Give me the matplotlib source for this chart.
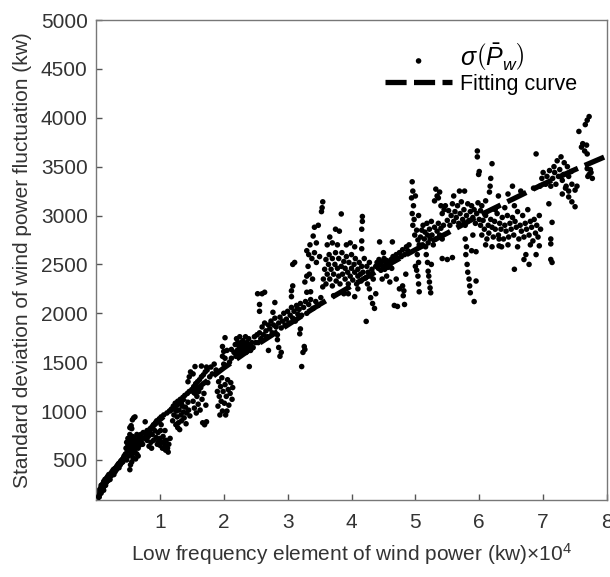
import numpy as np
import matplotlib
matplotlib.use("Agg")
import matplotlib.pyplot as plt

plt.rcParams['font.family'] = ['Liberation Sans', 'DejaVu Sans']
plt.rcParams['mathtext.fontset'] = 'custom'
plt.rcParams['mathtext.rm'] = 'Liberation Sans'
plt.rcParams['mathtext.it'] = 'Liberation Sans:italic'

# scatter points, x in units of 1e4 kw, y in kw
pts_a = [(0.01, 100), (0.02, 110), (0.03, 130), (0.03, 160), (0.04, 140), (0.05, 190), (0.05, 120),
         (0.06, 170), (0.07, 210), (0.08, 160), (0.08, 240), (0.09, 200), (0.10, 250), (0.11, 220),
         (0.12, 280), (0.12, 190), (0.13, 260), (0.14, 300), (0.15, 240), (0.16, 310), (0.17, 280),
         (0.18, 330), (0.19, 290), (0.20, 350), (0.21, 320), (0.22, 300), (0.23, 360), (0.24, 340),
         (0.25, 380), (0.26, 360), (0.27, 400), (0.28, 350), (0.29, 410), (0.30, 380), (0.31, 420),
         (0.32, 400), (0.33, 440), (0.34, 430), (0.35, 460), (0.36, 420), (0.37, 470), (0.38, 450),
         (0.39, 490), (0.40, 470), (0.41, 500), (0.42, 480), (0.43, 520), (0.44, 540)]
pts_b = [(0.46, 560), (0.47, 620), (0.48, 680), (0.49, 590), (0.50, 650), (0.50, 720), (0.51, 540),
         (0.52, 610), (0.52, 690), (0.53, 760), (0.54, 580), (0.54, 660), (0.55, 700), (0.56, 630),
         (0.57, 560), (0.57, 740), (0.58, 680), (0.59, 610), (0.60, 720), (0.60, 650), (0.61, 580),
         (0.62, 700), (0.63, 640), (0.64, 560), (0.64, 760), (0.65, 690), (0.66, 620), (0.67, 720),
         (0.68, 650), (0.69, 700), (0.70, 760), (0.71, 680), (0.72, 730), (0.73, 660), (0.74, 780),
         (0.53, 830), (0.55, 850), (0.57, 910), (0.59, 930), (0.61, 940), (0.56, 820), (0.77, 890),
         (0.53, 400), (0.54, 450), (0.56, 480), (0.58, 520), (0.62, 510), (0.66, 540), (0.48, 500)]
pts_c = [(0.76, 720), (0.78, 760), (0.80, 700), (0.80, 800), (0.82, 740), (0.84, 780), (0.85, 820),
         (0.86, 680), (0.88, 840), (0.88, 760), (0.90, 860), (0.90, 700), (0.92, 800), (0.93, 880),
         (0.94, 730), (0.95, 900), (0.96, 660), (0.97, 780), (0.98, 690), (0.99, 920), (1.00, 650),
         (1.00, 720), (1.01, 800), (1.02, 940), (1.03, 680), (1.04, 620), (1.05, 740), (1.06, 960),
         (1.07, 690), (1.08, 650), (1.09, 600), (1.10, 700), (1.11, 980), (1.12, 620), (1.13, 580),
         (1.14, 660), (1.15, 1000), (1.16, 720), (0.83, 640), (0.87, 620), (1.02, 860), (1.08, 800)]
pts_d = [(1.18, 1020), (1.20, 900), (1.21, 1050), (1.22, 960), (1.24, 1080), (1.25, 860), (1.26, 1000),
         (1.27, 940), (1.28, 1100), (1.29, 880), (1.30, 1010), (1.31, 810), (1.32, 1120), (1.33, 960),
         (1.34, 900), (1.35, 1050), (1.36, 1140), (1.37, 990), (1.38, 930), (1.39, 1160), (1.40, 1040),
         (1.41, 870), (1.42, 980), (1.43, 1180), (1.44, 1090), (1.45, 1010), (1.46, 1200), (1.47, 950),
         (1.44, 1300), (1.48, 1400), (1.46, 1350), (1.23, 1020), (1.28, 830), (1.34, 1070)]
pts_e = [(1.50, 1220), (1.52, 1100), (1.53, 1250), (1.54, 1030), (1.55, 1180), (1.56, 1280), (1.57, 980),
         (1.58, 1150), (1.59, 1300), (1.60, 1070), (1.61, 1200), (1.62, 1320), (1.63, 1010), (1.64, 1240),
         (1.65, 1350), (1.66, 1120), (1.67, 880), (1.68, 1370), (1.69, 1180), (1.70, 860), (1.71, 1400),
         (1.72, 1060), (1.73, 890), (1.74, 1420), (1.75, 1290), (1.55, 1455), (1.65, 1460), (1.73, 1450),
         (1.52, 1380), (1.78, 1350), (1.80, 1450), (1.82, 1380), (1.85, 1480), (1.88, 1420), (1.90, 1200),
         (1.91, 1050), (1.92, 1300), (1.93, 1150), (1.94, 960), (1.95, 1250), (1.96, 1100), (1.97, 1340),
         (1.98, 1000), (1.99, 1200), (2.00, 1480), (2.01, 1080), (2.02, 1270), (2.03, 960), (2.04, 1150),
         (2.05, 1000), (2.06, 1320), (2.07, 1220), (2.08, 1060), (2.09, 1500), (2.10, 1180), (2.11, 1290),
         (2.12, 1540), (2.13, 1120), (2.14, 1240), (1.98, 1560), (2.00, 1610), (2.02, 1540), (2.05, 1620),
         (2.12, 1630), (1.98, 1660), (2.02, 1750)]
pts_f = [(2.16, 1600), (2.18, 1680), (2.19, 1560), (2.20, 1740), (2.21, 1620), (2.22, 1700), (2.23, 1580),
         (2.24, 1660), (2.25, 1760), (2.26, 1620), (2.27, 1700), (2.28, 1580), (2.29, 1650), (2.30, 1720),
         (2.31, 1600), (2.32, 1680), (2.33, 1640), (2.34, 1760), (2.35, 1600), (2.36, 1700), (2.37, 1660),
         (2.38, 1620), (2.39, 1740), (2.40, 1455), (2.41, 1680), (2.42, 1620), (2.44, 1700), (2.46, 1650),
         (2.48, 1760), (2.50, 1700), (2.52, 1780)]
pts_g = [(2.54, 1700), (2.56, 1800), (2.58, 1740), (2.60, 1860), (2.62, 1780), (2.64, 1900), (2.66, 1820),
         (2.68, 1760), (2.70, 1880), (2.72, 1840), (2.74, 1920), (2.76, 1800), (2.78, 1880), (2.80, 1950),
         (2.82, 1860), (2.84, 1780), (2.86, 1900), (2.88, 1960), (2.90, 1850), (2.92, 1920), (2.94, 2000),
         (2.96, 1880), (2.98, 1940), (3.00, 2020), (3.02, 1900), (3.04, 1980), (3.06, 2060), (3.08, 1950),
         (3.10, 2020), (3.12, 1920), (3.14, 2080), (3.16, 1990), (3.18, 2040), (3.20, 2100), (3.22, 1980),
         (3.25, 2060), (3.28, 2120), (3.30, 2000), (3.33, 2090), (3.36, 2140), (3.40, 2050), (3.44, 2120),
         (3.48, 2080), (3.52, 2160), (2.53, 2200), (2.64, 2215), (2.56, 2020), (2.56, 2090), (2.80, 2110),
         (2.77, 2010), (2.60, 2200), (2.84, 1730), (2.86, 1650), (2.88, 1560), (2.90, 1600), (3.22, 1455),
         (3.24, 1600), (3.26, 1660), (3.27, 1630), (3.19, 1790), (3.20, 1840), (2.70, 1620),
         (3.06, 2170), (3.06, 2230), (3.08, 2280), (3.11, 2520), (3.08, 2500), (3.27, 2320), (3.30, 2380),
         (3.34, 2400), (3.39, 2350), (3.30, 2215), (3.36, 2220), (3.32, 2480), (3.38, 2560), (3.42, 2620),
         (3.45, 2520), (3.30, 2640), (3.35, 2700), (3.40, 2790), (3.42, 2880), (3.48, 2900), (3.33, 2600),
         (3.45, 2720), (3.50, 2580), (3.53, 3040), (3.54, 3080), (3.55, 3140), (3.55, 2270), (3.15, 2050)]
pts_h = [(3.56, 2350), (3.58, 2450), (3.60, 2300), (3.60, 2550), (3.62, 2400), (3.64, 2500), (3.65, 2600),
         (3.66, 2350), (3.68, 2450), (3.70, 2280), (3.70, 2560), (3.72, 2400), (3.74, 2500), (3.75, 2620),
         (3.76, 2330), (3.78, 2460), (3.80, 2380), (3.80, 2560), (3.82, 2300), (3.84, 2480), (3.85, 2620),
         (3.86, 2400), (3.88, 2530), (3.90, 2350), (3.90, 2460), (3.92, 2580), (3.94, 2420), (3.95, 2300),
         (3.96, 2520), (3.98, 2380), (4.00, 2460), (4.00, 2600), (4.02, 2340), (4.04, 2500), (4.05, 2420),
         (4.06, 2560), (4.08, 2300), (4.10, 2450), (4.10, 2380), (4.12, 2520), (4.14, 2400), (4.15, 2330),
         (4.16, 2480), (4.18, 2420), (4.20, 2560), (4.22, 2360), (4.24, 2480), (4.25, 2300), (4.26, 2420),
         (4.28, 2520), (4.30, 2380), (4.32, 2450), (4.34, 2350),
         (3.62, 2700), (3.66, 2780), (3.70, 2720), (3.75, 2860), (3.81, 2840), (3.84, 3016), (3.78, 2700),
         (3.92, 2700), (4.16, 2660), (4.16, 2740), (4.16, 2860), (4.17, 2940), (4.17, 2990), (4.05, 2680),
         (3.98, 2720), (4.28, 2250), (4.30, 2160), (4.33, 2100), (4.36, 2050), (4.38, 2200), (4.23, 1917),
         (3.95, 2200), (4.10, 2250), (3.72, 2180), (3.88, 2200), (4.05, 2170)]
pts_i = [(4.38, 2480), (4.40, 2520), (4.42, 2460), (4.43, 2550), (4.45, 2500), (4.46, 2440), (4.48, 2530),
         (4.50, 2480), (4.51, 2560), (4.52, 2450), (4.54, 2510), (4.55, 2540), (4.57, 2470), (4.58, 2520),
         (4.60, 2490), (4.62, 2550), (4.63, 2460), (4.65, 2580), (4.68, 2540), (4.70, 2600), (4.72, 2560),
         (4.75, 2620), (4.78, 2580), (4.80, 2650), (4.83, 2600), (4.86, 2680), (4.88, 2640), (4.90, 2700),
         (4.44, 2730), (4.64, 2730), (4.67, 2080), (4.72, 2070), (4.83, 2090), (4.75, 2250), (4.80, 2280),
         (4.60, 2320), (4.70, 2350), (4.81, 2180), (4.82, 2230), (4.55, 2380), (4.48, 2350), (4.85, 2400),
         (4.50, 2620)]
pts_j = [(4.95, 3345), (4.96, 3250), (4.94, 3180), (4.97, 3100), (4.95, 3020), (4.98, 2960), (4.96, 2900),
         (5.00, 3200), (5.02, 2850), (4.99, 2800), (5.04, 2750), (5.05, 3000), (5.06, 2700), (5.03, 2600),
         (5.05, 2520), (5.02, 2440), (5.04, 2380), (5.05, 2300), (5.06, 2220), (5.00, 2480),
         (5.08, 2780), (5.10, 2850), (5.11, 2700), (5.12, 2900), (5.14, 2760), (5.15, 2830), (5.16, 2680),
         (5.18, 2920), (5.19, 2800), (5.20, 2720), (5.22, 2860), (5.23, 2760), (5.25, 2940), (5.26, 2800),
         (5.28, 2700), (5.30, 2880), (5.32, 2760), (5.34, 2840), (5.36, 2920), (5.38, 2800), (5.40, 2870),
         (5.42, 2760), (5.44, 2900), (5.17, 2600), (5.19, 2520), (5.20, 2430), (5.21, 2380), (5.22, 2320),
         (5.23, 2260), (5.24, 2210), (5.25, 2500), (5.30, 3150), (5.32, 3270), (5.34, 3200), (5.36, 3180),
         (5.38, 3240), (5.40, 3100), (5.42, 3020), (5.45, 3060), (5.47, 3100), (5.42, 2560), (5.50, 2550),
         (5.58, 2570)]
pts_k = [(5.50, 2950), (5.52, 3050), (5.54, 2900), (5.56, 3000), (5.58, 3120), (5.60, 2940), (5.62, 3040),
         (5.64, 2980), (5.66, 3100), (5.68, 2920), (5.70, 3020), (5.72, 3140), (5.74, 2960), (5.76, 3060),
         (5.78, 2900), (5.80, 3000), (5.82, 3120), (5.84, 2950), (5.86, 3040), (5.88, 3100), (5.90, 2980),
         (5.92, 3060), (5.94, 2920), (5.96, 3020), (5.98, 3130), (6.00, 2960), (6.02, 3050), (6.04, 3100),
         (5.69, 3250), (5.77, 3250), (5.60, 3200), (5.78, 2760), (5.80, 2680), (5.79, 2600), (5.81, 2500),
         (5.82, 2420), (5.84, 2350), (5.85, 2280), (5.86, 2210), (5.88, 2640), (5.92, 2120), (5.95, 2630),
         (5.95, 2330), (5.90, 2800), (5.97, 3600), (5.97, 3660), (6.00, 3450), (5.99, 3420)]
pts_l = [(6.02, 2900), (6.04, 2800), (6.06, 2950), (6.08, 2860), (6.10, 3000), (6.12, 2760), (6.14, 2900),
         (6.15, 2820), (6.18, 2960), (6.20, 2880), (6.22, 2780), (6.24, 2940), (6.25, 2860), (6.28, 3020),
         (6.30, 2800), (6.32, 2920), (6.34, 2860), (6.36, 2980), (6.38, 2760), (6.40, 2900), (6.42, 2840),
         (6.44, 3000), (6.46, 2780), (6.48, 2920), (6.50, 2860), (6.52, 2980), (6.54, 2800), (6.56, 2940),
         (6.58, 2880), (6.60, 3040), (6.62, 2760), (6.64, 2900), (6.66, 2840), (6.68, 3000), (6.70, 2780),
         (6.72, 2920), (6.74, 2860), (6.76, 3060), (6.78, 2800), (6.80, 2940), (6.82, 2880), (6.84, 2740),
         (6.86, 2960), (6.88, 2820), (6.90, 2900), (6.92, 2780), (6.94, 3000), (6.96, 2860),
         (6.10, 2700), (6.20, 2680), (6.35, 2680), (6.45, 2700), (6.60, 2680), (6.80, 2700), (6.25, 3060),
         (6.40, 3080), (6.55, 3100), (6.16, 3240), (6.17, 3300), (6.18, 3380), (6.20, 3530), (6.31, 2690),
         (6.31, 2760), (6.55, 2450), (6.52, 3300), (6.78, 2500), (6.70, 2550), (6.73, 2600), (6.89, 2600),
         (6.94, 2690), (6.10, 3150), (6.30, 3200), (6.45, 3220), (6.65, 3250), (6.85, 3280)]
pts_m = [(6.89, 3630), (7.17, 3500), (7.22, 3560), (7.28, 3600), (7.33, 3540), (7.38, 3500),
         (6.95, 3300), (6.98, 3380), (7.00, 3440), (7.04, 3320), (7.06, 3400), (7.10, 3460), (7.12, 3300),
         (7.15, 3380), (7.18, 3440), (7.20, 3320), (7.24, 3400), (7.26, 3470), (7.30, 3360), (7.32, 3420),
         (7.36, 3300), (7.40, 3400), (7.44, 3450), (7.30, 3220), (7.35, 3280), (7.40, 3250), (7.45, 3320),
         (7.50, 3260), (7.53, 3300), (7.40, 3190), (7.45, 3140), (7.50, 3090), (7.09, 3120), (7.14, 2930),
         (7.12, 2760), (7.12, 2710), (7.12, 2550), (7.14, 2520), (7.72, 4012), (7.69, 3975), (7.66, 3930),
         (7.56, 3860), (7.60, 3700), (7.62, 3735), (7.65, 3660), (7.68, 3720), (7.69, 3630), (7.69, 3480),
         (7.72, 3420), (7.75, 3440), (7.77, 3380), (7.70, 3400), (7.74, 3470)]

# fitting curve, read at a set of x positions (x in 1e4 kw)
curve_x = [0.02, 0.1, 0.25, 0.5, 0.75, 1.0, 1.5, 2.0, 2.5, 3.0, 3.5, 4.0, 4.5, 5.0, 5.5, 6.0, 6.5, 7.0, 7.5, 8.0]
curve_y = [100, 200, 370, 580, 755, 910, 1190, 1440, 1670, 1880, 2090, 2280, 2470, 2650, 2820, 3000,
           3160, 3320, 3470, 3610]

y_ticks = [500, 1000, 1500, 2000, 2500, 3000, 3500, 4000, 4500, 5000]
x_ticks = [1, 2, 3, 4, 5, 6, 7, 8]

all_pts = pts_a + pts_b + pts_c + pts_d + pts_e + pts_f + pts_g + pts_h + pts_i + pts_j + pts_k + pts_l + pts_m
px = np.array([p[0] for p in all_pts]) * 1e4
py = np.array([p[1] for p in all_pts])

fig = plt.figure(figsize=(6.1, 5.77), dpi=100)
ax = fig.add_axes([96 / 610, 77 / 577, 511 / 610, 480 / 577])

ax.scatter(px, py, s=16, color='black', edgecolors='none', label=r'$\sigma\left(\bar{P}_w\right)$', zorder=2)
ax.plot(np.array(curve_x) * 1e4, curve_y, color='black', lw=3.8, dashes=(4, 1.4),
        label='Fitting curve', zorder=3)

ax.set_xlim(0, 8e4)
ax.set_ylim(90, 5000)
ax.set_xticks([t * 1e4 for t in x_ticks])
ax.set_xticklabels([str(t) for t in x_ticks])
ax.set_yticks(y_ticks)
ax.tick_params(direction='in', length=4, width=1, colors='#555555', labelcolor='#333333',
               labelsize=15, pad=6)
ax.tick_params(axis='x', pad=9)
for s in ax.spines.values():
    s.set_color('#777777')
    s.set_linewidth(1)

ax.set_xlabel(r'Low frequency element of wind power (kw)$\times10^4$', fontsize=15, color='#333333',
              labelpad=7)
ax.set_ylabel('Standard deviation of wind power fluctuation (kw)', fontsize=15, color='#333333',
              labelpad=6)

leg = ax.legend(loc='upper left', bbox_to_anchor=(0.527, 0.995), frameon=False, fontsize=15.5,
                handlelength=3.15, handletextpad=0.35, labelspacing=0.05, markerscale=1.0)
leg.get_texts()[0].set_fontsize(18)

fig.savefig('out.png', dpi=100)
